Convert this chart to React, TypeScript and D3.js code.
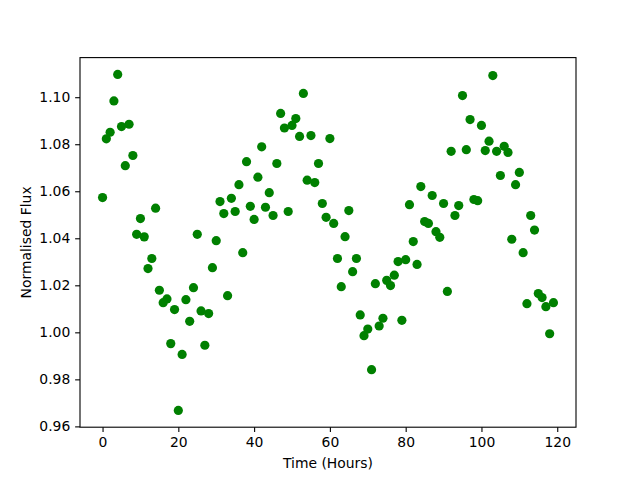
import { useEffect, useRef } from 'react';
import * as d3 from 'd3';

// Observation times (hours)
const hours: number[] = [
  0, 1, 2, 3, 4, 5, 6, 7, 8, 9, 10, 11, 12, 13, 14, 15, 16, 17, 18, 19,
  20, 21, 22, 23, 24, 25, 26, 27, 28, 29, 30, 31, 32, 33, 34, 35, 36, 37, 38, 39,
  40, 41, 42, 43, 44, 45, 46, 47, 48, 49, 50, 51, 52, 53, 54, 55, 56, 57, 58, 59,
  60, 61, 62, 63, 64, 65, 66, 67, 68, 69, 70, 71, 72, 73, 74, 75, 76, 77, 78, 79,
  80, 81, 82, 83, 84, 85, 86, 87, 88, 89, 90, 91, 92, 93, 94, 95, 96, 97, 98, 99,
  100, 101, 102, 103, 104, 105, 106, 107, 108, 109, 110, 111, 112, 113, 114, 115, 116, 117, 118, 119,
];

// Normalised flux
const flux: number[] = [
  1.0573, 1.0823, 1.0851, 1.0984, 1.1097, 1.0875, 1.0709, 1.0885, 1.0752, 1.0417,
  1.0484, 1.0406, 1.0271, 1.0314, 1.0528, 1.0179, 1.0126, 1.0142, 0.9952, 1.0097,
  0.9668, 0.9906, 1.0139, 1.0047, 1.0190, 1.0417, 1.0091, 0.9945, 1.0080, 1.0275,
  1.0390, 1.0556, 1.0505, 1.0156, 1.0570, 1.0514, 1.0628, 1.0339, 1.0726, 1.0536,
  1.0480, 1.0660, 1.0789, 1.0532, 1.0594, 1.0497, 1.0718, 1.0931, 1.0869, 1.0514,
  1.0880, 1.0909, 1.0833, 1.1016, 1.0647, 1.0837, 1.0637, 1.0718, 1.0548, 1.0489,
  1.0824, 1.0463, 1.0314, 1.0194, 1.0407, 1.0518, 1.0258, 1.0314, 1.0074, 0.9986,
  1.0014, 0.9841, 1.0207, 1.0027, 1.0060, 1.0221, 1.0199, 1.0243, 1.0301, 1.0051,
  1.0309, 1.0543, 1.0386, 1.0289, 1.0620, 1.0471, 1.0463, 1.0582, 1.0428, 1.0404,
  1.0548, 1.0174, 1.0770, 1.0497, 1.0539, 1.1007, 1.0777, 1.0905, 1.0565, 1.0560,
  1.0880, 1.0773, 1.0813, 1.1092, 1.0770, 1.0667, 1.0791, 1.0765, 1.0396, 1.0628,
  1.0680, 1.0339, 1.0122, 1.0497, 1.0435, 1.0165, 1.0148, 1.0109, 0.9994, 1.0126,
];

const xTicks = [0, 20, 40, 60, 80, 100, 120];
const yTicks = [0.96, 0.98, 1.0, 1.02, 1.04, 1.06, 1.08, 1.1];

const WIDTH = 640;
const HEIGHT = 480;

export default function App() {
  const svgRef = useRef<SVGSVGElement>(null);

  useEffect(() => {
    if (!svgRef.current) return;
    const svg = d3.select(svgRef.current);
    svg.selectAll('*').remove();

    const margin = { top: 57.6, right: 64, bottom: 52.8, left: 80 };
    const innerWidth = WIDTH - margin.left - margin.right;
    const innerHeight = HEIGHT - margin.top - margin.bottom;
    const font = 'DejaVu Sans, sans-serif';

    // matplotlib-style 5% padding around the data
    const [x0, x1] = d3.extent(hours) as [number, number];
    const [y0, y1] = d3.extent(flux) as [number, number];
    const xPad = (x1 - x0) * 0.05;
    const yPad = (y1 - y0) * 0.05;

    const x = d3.scaleLinear().domain([x0 - xPad, x1 + xPad]).range([0, innerWidth]);
    const y = d3.scaleLinear().domain([y0 - yPad, y1 + yPad]).range([innerHeight, 0]);

    const g = svg.append('g')
      .attr('transform', 'translate(' + margin.left + ',' + margin.top + ')');

    // points
    g.append('g')
      .selectAll('circle')
      .data(hours)
      .join('circle')
      .attr('cx', d => x(d))
      .attr('cy', (_, i) => y(flux[i]))
      .attr('r', 4.6)
      .attr('fill', '#008000');

    // axes
    const xAxis = d3.axisBottom(x).tickValues(xTicks).tickSize(4.86).tickPadding(4.86)
      .tickFormat(d => String(d));
    const yAxis = d3.axisLeft(y).tickValues(yTicks).tickSize(4.86).tickPadding(4.86)
      .tickFormat(d => d3.format('.2f')(d as number));

    const styleAxis = (sel: d3.Selection<SVGGElement, unknown, null, undefined>) => {
      sel.select('.domain').remove();
      sel.selectAll('.tick line').attr('stroke', '#000').attr('stroke-width', 1.1);
      sel.selectAll('.tick text')
        .attr('fill', '#000')
        .attr('font-family', font)
        .attr('font-size', '13.9px');
    };

    g.append('g')
      .attr('transform', 'translate(0,' + innerHeight + ')')
      .call(xAxis)
      .call(styleAxis);

    g.append('g')
      .call(yAxis)
      .call(styleAxis);

    // frame
    g.append('rect')
      .attr('x', 0)
      .attr('y', 0)
      .attr('width', innerWidth)
      .attr('height', innerHeight)
      .attr('fill', 'none')
      .attr('stroke', '#000')
      .attr('stroke-width', 1.1);

    // labels
    svg.append('text')
      .attr('x', margin.left + innerWidth / 2)
      .attr('y', 468)
      .attr('text-anchor', 'middle')
      .attr('font-family', font)
      .attr('font-size', '13.9px')
      .attr('fill', '#000')
      .text('Time (Hours)');

    svg.append('text')
      .attr('transform', 'translate(31,' + (margin.top + innerHeight / 2) + ') rotate(-90)')
      .attr('text-anchor', 'middle')
      .attr('font-family', font)
      .attr('font-size', '13.9px')
      .attr('fill', '#000')
      .text('Normalised Flux');
  }, []);

  return (
    <svg
      ref={svgRef}
      width={WIDTH}
      height={HEIGHT}
      style={{ position: 'absolute', left: 0, top: 0, background: '#fff' }}
    />
  );
}
